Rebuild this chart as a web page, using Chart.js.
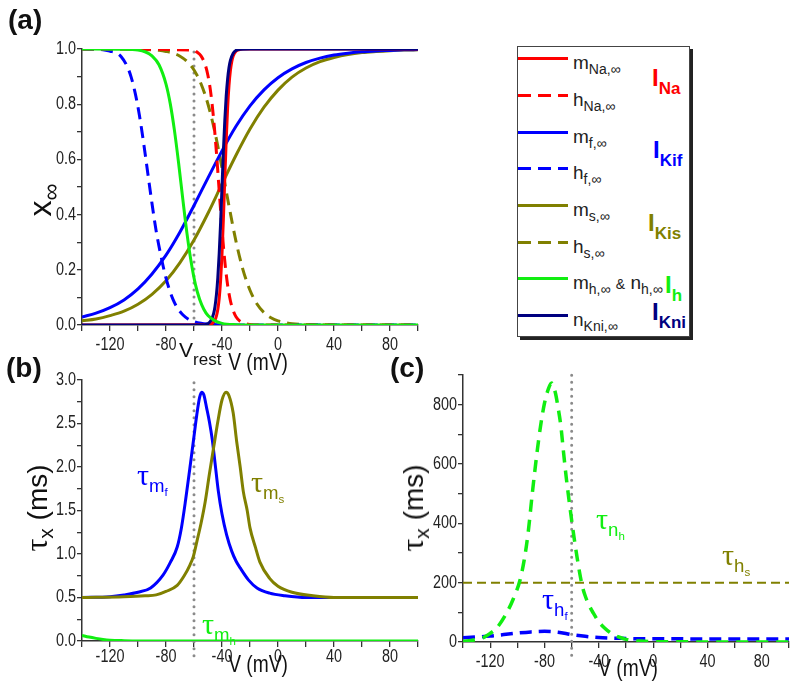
<!DOCTYPE html>
<html>
<head>
<meta charset="utf-8">
<title>Steady-state gating and time constants</title>
<script src="https://cdn.jsdelivr.net/npm/chart.js@4.4.1/dist/chart.umd.min.js"></script>
<style>
  body { margin: 0; background: #fff; }
  #fig { position: relative; width: 800px; height: 696px; overflow: hidden; font-family: "Liberation Sans", Arial, sans-serif; color: #222; }
  #fig canvas { position: absolute; }
  .t { position: absolute; white-space: nowrap; line-height: 1; }
  .panel { font-weight: bold; font-size: 28px; color: #111; }
  .tau { font-family: "Liberation Serif", "DejaVu Serif", serif; }
  .s1 { font-size: 0.62em; position: relative; top: 0.35em; }
  .s2 { font-size: 0.75em; position: relative; top: 0.3em; }
  .rot { transform: translate(-50%, -50%) rotate(-90deg); }
  .ctr { transform: translate(-50%, -50%) scaleX(0.8); }
  .ax { font-size: 24px; color: #111; }
  .box { position: absolute; left: 517px; top: 46px; width: 171px; height: 289px; border: 1px solid #444; box-shadow: 3px 3px 0 #222; }
  .ln { position: absolute; left: 518px; width: 50px; height: 3px; }
  .lt { font-size: 19px; color: #222; }
  .ls { font-size: 14px; position: relative; top: 5px; }
  .gl { font-weight: bold; font-size: 24px; }
  .gs { font-size: 17px; position: relative; top: 8px; }
</style>
</head>
<body>
<div id="fig">
  <canvas id="chartA" width="440" height="370" style="left:0;top:0"></canvas>
  <canvas id="chartB" width="440" height="336" style="left:0;top:360px"></canvas>
  <canvas id="chartC" width="400" height="336" style="left:400px;top:360px"></canvas>

  <div class="t panel" style="left:8px;top:6px">(a)</div>
  <div class="t panel" style="left:6px;top:354px">(b)</div>
  <div class="t panel" style="left:390px;top:354px">(c)</div>

  <!-- axis titles -->
  <div class="t rot" style="left:40px;top:200px;font-size:32px;color:#111">x<span style="font-size:24px;position:relative;top:8px">∞</span></div>
  <div class="t" style="left:179px;top:339px;font-size:21px;color:#111">V<span style="font-size:17px;position:relative;top:8px">rest</span></div>
  <div class="t ax ctr" style="left:258px;top:362px">V (mV)</div>
  <div class="t ax rot" style="left:36px;top:508px;font-size:28px"><span class="tau" style="font-size:32px">τ</span><span class="s2">x</span> (ms)</div>
  <div class="t ax ctr" style="left:258px;top:664px">V (mV)</div>
  <div class="t ax rot" style="left:412px;top:508px;font-size:28px"><span class="tau" style="font-size:32px">τ</span><span class="s2">x</span> (ms)</div>
  <div class="t ax ctr" style="left:628px;top:668px">V (mV)</div>

  <!-- curve labels -->
  <div class="t" style="left:137px;top:460px;font-size:30px;color:#0000ff"><span class="tau">τ</span><span class="s1">m<span class="s1">f</span></span></div>
  <div class="t" style="left:251px;top:467px;font-size:30px;color:#808000"><span class="tau">τ</span><span class="s1">m<span class="s1">s</span></span></div>
  <div class="t" style="left:202px;top:609px;font-size:30px;color:#11ee11"><span class="tau">τ</span><span class="s1">m<span class="s1">h</span></span></div>
  <div class="t" style="left:596px;top:504px;font-size:30px;color:#11ee11"><span class="tau">τ</span><span class="s1">n<span class="s1">h</span></span></div>
  <div class="t" style="left:722px;top:540px;font-size:30px;color:#808000"><span class="tau">τ</span><span class="s1">h<span class="s1">s</span></span></div>
  <div class="t" style="left:542px;top:584px;font-size:30px;color:#0000ff"><span class="tau">τ</span><span class="s1">h<span class="s1">f</span></span></div>

  <!-- legend -->
  <div class="box"></div>
  <div class="ln" style="top:57px;background:#ff0000"></div>
  <div class="ln" style="top:94px;background:repeating-linear-gradient(90deg,#ff0000 0 13px,transparent 13px 20px)"></div>
  <div class="ln" style="top:131px;background:#0000ff"></div>
  <div class="ln" style="top:167px;background:repeating-linear-gradient(90deg,#0000ff 0 13px,transparent 13px 20px)"></div>
  <div class="ln" style="top:204px;background:#808000"></div>
  <div class="ln" style="top:241px;background:repeating-linear-gradient(90deg,#808000 0 13px,transparent 13px 20px)"></div>
  <div class="ln" style="top:277px;background:#11ee11"></div>
  <div class="ln" style="top:314px;background:#000080"></div>

  <div class="t lt" style="left:573px;top:53px">m<span class="ls">Na,∞</span></div>
  <div class="t lt" style="left:573px;top:90px">h<span class="ls">Na,∞</span></div>
  <div class="t lt" style="left:573px;top:127px">m<span class="ls">f,∞</span></div>
  <div class="t lt" style="left:573px;top:163px">h<span class="ls">f,∞</span></div>
  <div class="t lt" style="left:573px;top:200px">m<span class="ls">s,∞</span></div>
  <div class="t lt" style="left:573px;top:237px">h<span class="ls">s,∞</span></div>
  <div class="t lt" style="left:573px;top:273px">m<span class="ls">h,∞</span> <span style="font-size:14px">&amp;</span> n<span class="ls">h,∞</span></div>
  <div class="t lt" style="left:573px;top:310px">n<span class="ls">Kni,∞</span></div>

  <div class="t gl" style="left:652px;top:66px;color:#ff0000">I<span class="gs">Na</span></div>
  <div class="t gl" style="left:653px;top:138px;color:#0000ff">I<span class="gs">Kif</span></div>
  <div class="t gl" style="left:648px;top:211px;color:#808000">I<span class="gs">Kis</span></div>
  <div class="t gl" style="left:665px;top:273px;color:#11ee11">I<span class="gs">h</span></div>
  <div class="t gl" style="left:652px;top:300px;color:#000080">I<span class="gs">Kni</span></div>
</div>

<script>
    "use strict";

    // Resting potential (dotted line)
    var vRest = -60;

    // (a) Steady-state gating curves, V (mV) and value
    var mNaV = [-140, -50, -47, -45, -44, -43, -42, -41, -40, -39, -38, -37, -36, -35, -34, -33, -32, -30, -28, -25, 100];
    var mNaY = [0, 0.001, 0.006, 0.018, 0.032, 0.056, 0.096, 0.161, 0.257, 0.385, 0.529, 0.669, 0.785, 0.868, 0.922, 0.955, 0.975, 0.992, 0.997, 1, 1];

    var hNaV = [-140, -60, -58, -55, -52, -50, -48, -46, -44, -42, -40, -38, -36, -34, -32, -30, -27, -24, -20, -15, 100];
    var hNaY = [1, 0.996, 0.989, 0.975, 0.943, 0.903, 0.84, 0.747, 0.626, 0.486, 0.348, 0.231, 0.145, 0.088, 0.052, 0.03, 0.013, 0.006, 0.002, 0, 0];

    var gridV = [-140, -130, -120, -110, -100, -90, -80, -70, -60, -50, -40, -30, -20, -10, 0, 10, 20, 30, 40, 50, 60, 70, 80, 90, 100];
    var mfY = [0.029, 0.043, 0.063, 0.091, 0.131, 0.185, 0.253, 0.337, 0.433, 0.533, 0.631, 0.72, 0.794, 0.852, 0.896, 0.928, 0.951, 0.967, 0.978, 0.985, 0.99, 0.993, 0.995, 0.997, 0.998];
    var msY = [0.015, 0.022, 0.034, 0.05, 0.075, 0.111, 0.16, 0.226, 0.308, 0.405, 0.511, 0.615, 0.71, 0.789, 0.851, 0.898, 0.931, 0.954, 0.969, 0.98, 0.987, 0.991, 0.994, 0.996, 0.997];

    var hfV = [-140, -125, -120, -115, -112, -108, -105, -102, -99, -96, -93, -90, -87, -84, -81, -78, -75, -72, -68, -64, -60, -55, -50, -40, -30, 100];
    var hfY = [1, 0.997, 0.992, 0.985, 0.972, 0.94, 0.9, 0.84, 0.76, 0.66, 0.55, 0.44, 0.34, 0.26, 0.19, 0.135, 0.093, 0.063, 0.037, 0.021, 0.012, 0.006, 0.003, 0.001, 0, 0];

    var hsV = [-140, -100, -90, -85, -80, -75, -70, -65, -60, -55, -50, -45, -40, -35, -30, -25, -20, -15, -10, -5, 0, 5, 10, 20, 30, 40, 100];
    var hsY = [1, 0.999, 0.997, 0.995, 0.991, 0.985, 0.974, 0.955, 0.924, 0.874, 0.8, 0.697, 0.569, 0.431, 0.303, 0.2, 0.126, 0.076, 0.045, 0.026, 0.015, 0.009, 0.005, 0.002, 0.001, 0, 0];

    var mhV = [-140, -110, -100, -95, -90, -85, -80, -77, -74, -71, -68, -65, -62, -59, -56, -53, -50, -45, -40, -30, -20, 100];
    var mhY = [1, 0.999, 0.996, 0.99, 0.975, 0.943, 0.873, 0.803, 0.706, 0.587, 0.456, 0.331, 0.227, 0.147, 0.093, 0.057, 0.034, 0.015, 0.006, 0.001, 0, 0];

    var nKniV = [-140, -55, -50, -48, -46, -45, -44, -43, -42, -41, -40, -39, -38, -37, -36, -35, -34, -32, -30, -27, -20, 100];
    var nKniY = [0, 0, 0.005, 0.015, 0.041, 0.067, 0.109, 0.171, 0.259, 0.37, 0.5, 0.63, 0.741, 0.829, 0.891, 0.933, 0.959, 0.985, 0.995, 0.999, 1, 1];

    // (b) fast time constants (ms)
    var tauMfV = [-140, -120, -110, -100, -91, -82, -77, -72, -69, -66, -63, -60.5, -58, -56, -54.5, -53, -51, -49, -47, -45, -42.6, -40, -36.7, -33, -30, -27, -21, -15, -6, 5, 20, 100];
    var tauMfY = [0.5, 0.51, 0.53, 0.56, 0.61, 0.76, 0.9, 1.08, 1.3, 1.62, 1.98, 2.29, 2.6, 2.8, 2.86, 2.83, 2.68, 2.52, 2.32, 2.05, 1.72, 1.46, 1.22, 1.03, 0.92, 0.84, 0.7, 0.61, 0.55, 0.52, 0.5, 0.5];

    var tauMsV = [-140, -110, -95, -87, -80, -72, -67, -63, -60.5, -58, -55, -52, -49, -46, -43, -40, -37.1, -35, -32, -29.5, -27, -24.8, -22, -20, -16, -13, -6, 0, 10, 25, 40, 100];
    var tauMsY = [0.5, 0.51, 0.52, 0.53, 0.57, 0.64, 0.75, 0.87, 0.97, 1.14, 1.35, 1.6, 1.92, 2.22, 2.52, 2.77, 2.86, 2.82, 2.62, 2.29, 2.0, 1.72, 1.5, 1.3, 1.07, 0.91, 0.72, 0.63, 0.56, 0.52, 0.5, 0.5];

    var tauMhV = [-140, -135, -130, -125, -120, -110, -100, 100];
    var tauMhY = [0.065, 0.045, 0.03, 0.018, 0.01, 0.004, 0.001, 0];

    // (c) slow time constants (ms)
    var tauNhV = [-140, -132, -125, -120, -115, -108, -103, -98, -95, -92, -89, -86, -83, -80, -77, -74.8, -72, -70, -68, -66, -64, -62, -60, -58, -56, -54, -52, -50, -47, -44, -40, -36, -32, -26, -20, -15, -10, 0, 100];
    var tauNhY = [2, 7, 15, 29, 48, 97, 145, 209, 275, 370, 500, 620, 725, 805, 855, 873, 840, 790, 730, 640, 555, 480, 410, 345, 285, 230, 185, 155, 122, 97, 68, 48, 33, 18, 9, 5, 3, 1, 0];

    var tauHsV = [-140, 100];
    var tauHsY = [200, 200];

    var tauHfV = [-140, -130, -120, -110, -100, -90, -80, -70, -60, -50, -40, -30, -20, -10, 0, 50, 100];
    var tauHfY = [14, 17, 20, 25, 30, 34, 36, 33, 25, 19, 15, 13, 12, 11, 11, 10, 10];

    // Colours
    var RED = "#ff0000", BLUE = "#0000ff", OLIVE = "#808000", GREEN = "#11ee11", NAVY = "#000080", GREY = "#8a8a8a";

    Chart.defaults.font.family = '"Liberation Sans", Arial, sans-serif';
    Chart.defaults.font.size = 17;
    Chart.defaults.color = "#222";
    Chart.defaults.animation = false;

    // Tick labels in the original are set in a condensed face; draw them squeezed
    var narrowTicks = {
        id: "narrowTicks",
        afterDraw: function (chart, args, opts) {
            var ctx = chart.ctx, area = chart.chartArea;
            ctx.save();
            ctx.font = "18px 'Liberation Sans', Arial, sans-serif";
            ctx.fillStyle = "#222";
            ctx.textAlign = "center";
            ctx.textBaseline = "top";
            chart.scales.x.ticks.forEach(function (t) {
                if (!t.label) return;
                ctx.save();
                ctx.translate(chart.scales.x.getPixelForValue(t.value), area.bottom + opts.xOff);
                ctx.scale(0.8, 1);
                ctx.fillText(t.label, 0, 0);
                ctx.restore();
            });
            ctx.textAlign = "right";
            ctx.textBaseline = "middle";
            chart.scales.y.ticks.forEach(function (t) {
                if (!t.label) return;
                ctx.save();
                ctx.translate(area.left - opts.yGap, chart.scales.y.getPixelForValue(t.value));
                ctx.scale(0.8, 1);
                ctx.fillText(t.label, 0, 0);
                ctx.restore();
            });
            ctx.restore();
        }
    };

    function pts(vs, ys) {
        return vs.map(function (v, i) { return {x: v, y: ys[i]}; });
    }

    function curve(vs, ys, color, dash, width) {
        return {
            data: pts(vs, ys),
            borderColor: color,
            borderWidth: width || 3,
            borderDash: dash || [],
            pointRadius: 0,
            fill: false,
            cubicInterpolationMode: "monotone"
        };
    }

    function restLine(ys) {
        return {
            data: pts([vRest, vRest], ys),
            borderColor: GREY,
            borderWidth: 3,
            borderDash: [0, 7],
            borderCapStyle: "round",
            pointRadius: 0,
            clip: false
        };
    }

    function xAxis(h) {
        return {
            type: "linear", min: -140, max: 100,
            afterFit: function (s) { s.height = h; },
            border: {color: "#333", width: 1.5},
            grid: {drawOnChartArea: false, tickLength: 6, color: "#333", lineWidth: 1.3},
            ticks: {
                display: false, stepSize: 20, autoSkip: false, maxRotation: 0,
                callback: function (v) { return v % 40 === 0 ? String(v) : ""; }
            }
        };
    }

    function yAxis(min, max, step, w, label) {
        return {
            min: min, max: max,
            afterFit: function (s) { s.width = w; },
            border: {color: "#333", width: 1.5},
            grid: {drawOnChartArea: false, tickLength: 5, color: "#333", lineWidth: 1.3},
            ticks: {display: false, stepSize: step, autoSkip: false, callback: label}
        };
    }

    function makeChart(id, datasets, x, y, padding, tickOpts) {
        return new Chart(document.getElementById(id).getContext("2d"), {
            type: "line",
            data: {datasets: datasets},
            options: {
                responsive: false,
                layout: {padding: padding},
                plugins: {legend: {display: false}, tooltip: {enabled: false}, narrowTicks: tickOpts},
                scales: {x: x, y: y}
            },
            plugins: [narrowTicks]
        });
    }

    var dash = [12, 7];

    // (a) steady states
    makeChart("chartA", [
        curve(mhV, mhY, GREEN),
        curve(nKniV, nKniY, NAVY),
        curve(mNaV, mNaY, RED),
        curve(hNaV, hNaY, RED, dash),
        curve(gridV, mfY, BLUE),
        curve(hfV, hfY, BLUE, dash),
        curve(gridV, msY, OLIVE),
        curve(hsV, hsY, OLIVE, dash),
        restLine([0, 1])
    ], xAxis(45), yAxis(0, 1, 0.1, 82, function (v) {
        return Math.round(v * 10) % 2 === 0 ? v.toFixed(1) : "";
    }), {top: 49, right: 22, left: 0, bottom: 0}, {xOff: 11, yGap: 6});

    // (b) fast time constants
    makeChart("chartB", [
        curve(tauMhV, tauMhY, GREEN),
        curve(tauMsV, tauMsY, OLIVE),
        curve(tauMfV, tauMfY, BLUE),
        restLine([-0.17, 3])
    ], xAxis(55), yAxis(0, 3, 0.25, 82, function (v) {
        return Math.round(v * 4) % 2 === 0 ? v.toFixed(1) : "";
    }), {top: 20, right: 22, left: 0, bottom: 0}, {xOff: 7, yGap: 6});

    // (c) slow time constants
    makeChart("chartC", [
        curve(tauNhV, tauNhY, GREEN, [12, 8], 3.5),
        curve(tauHfV, tauHfY, BLUE, [12, 7], 3.5),
        curve(tauHsV, tauHsY, OLIVE, [9, 5], 2),
        restLine([-45, 900])
    ], xAxis(54), yAxis(0, 900, 100, 63, function (v) {
        return v % 200 === 0 ? String(v) : "";
    }), {top: 15, right: 11, left: 0, bottom: 0}, {xOff: 11, yGap: 6});
</script>
</body>
</html>
